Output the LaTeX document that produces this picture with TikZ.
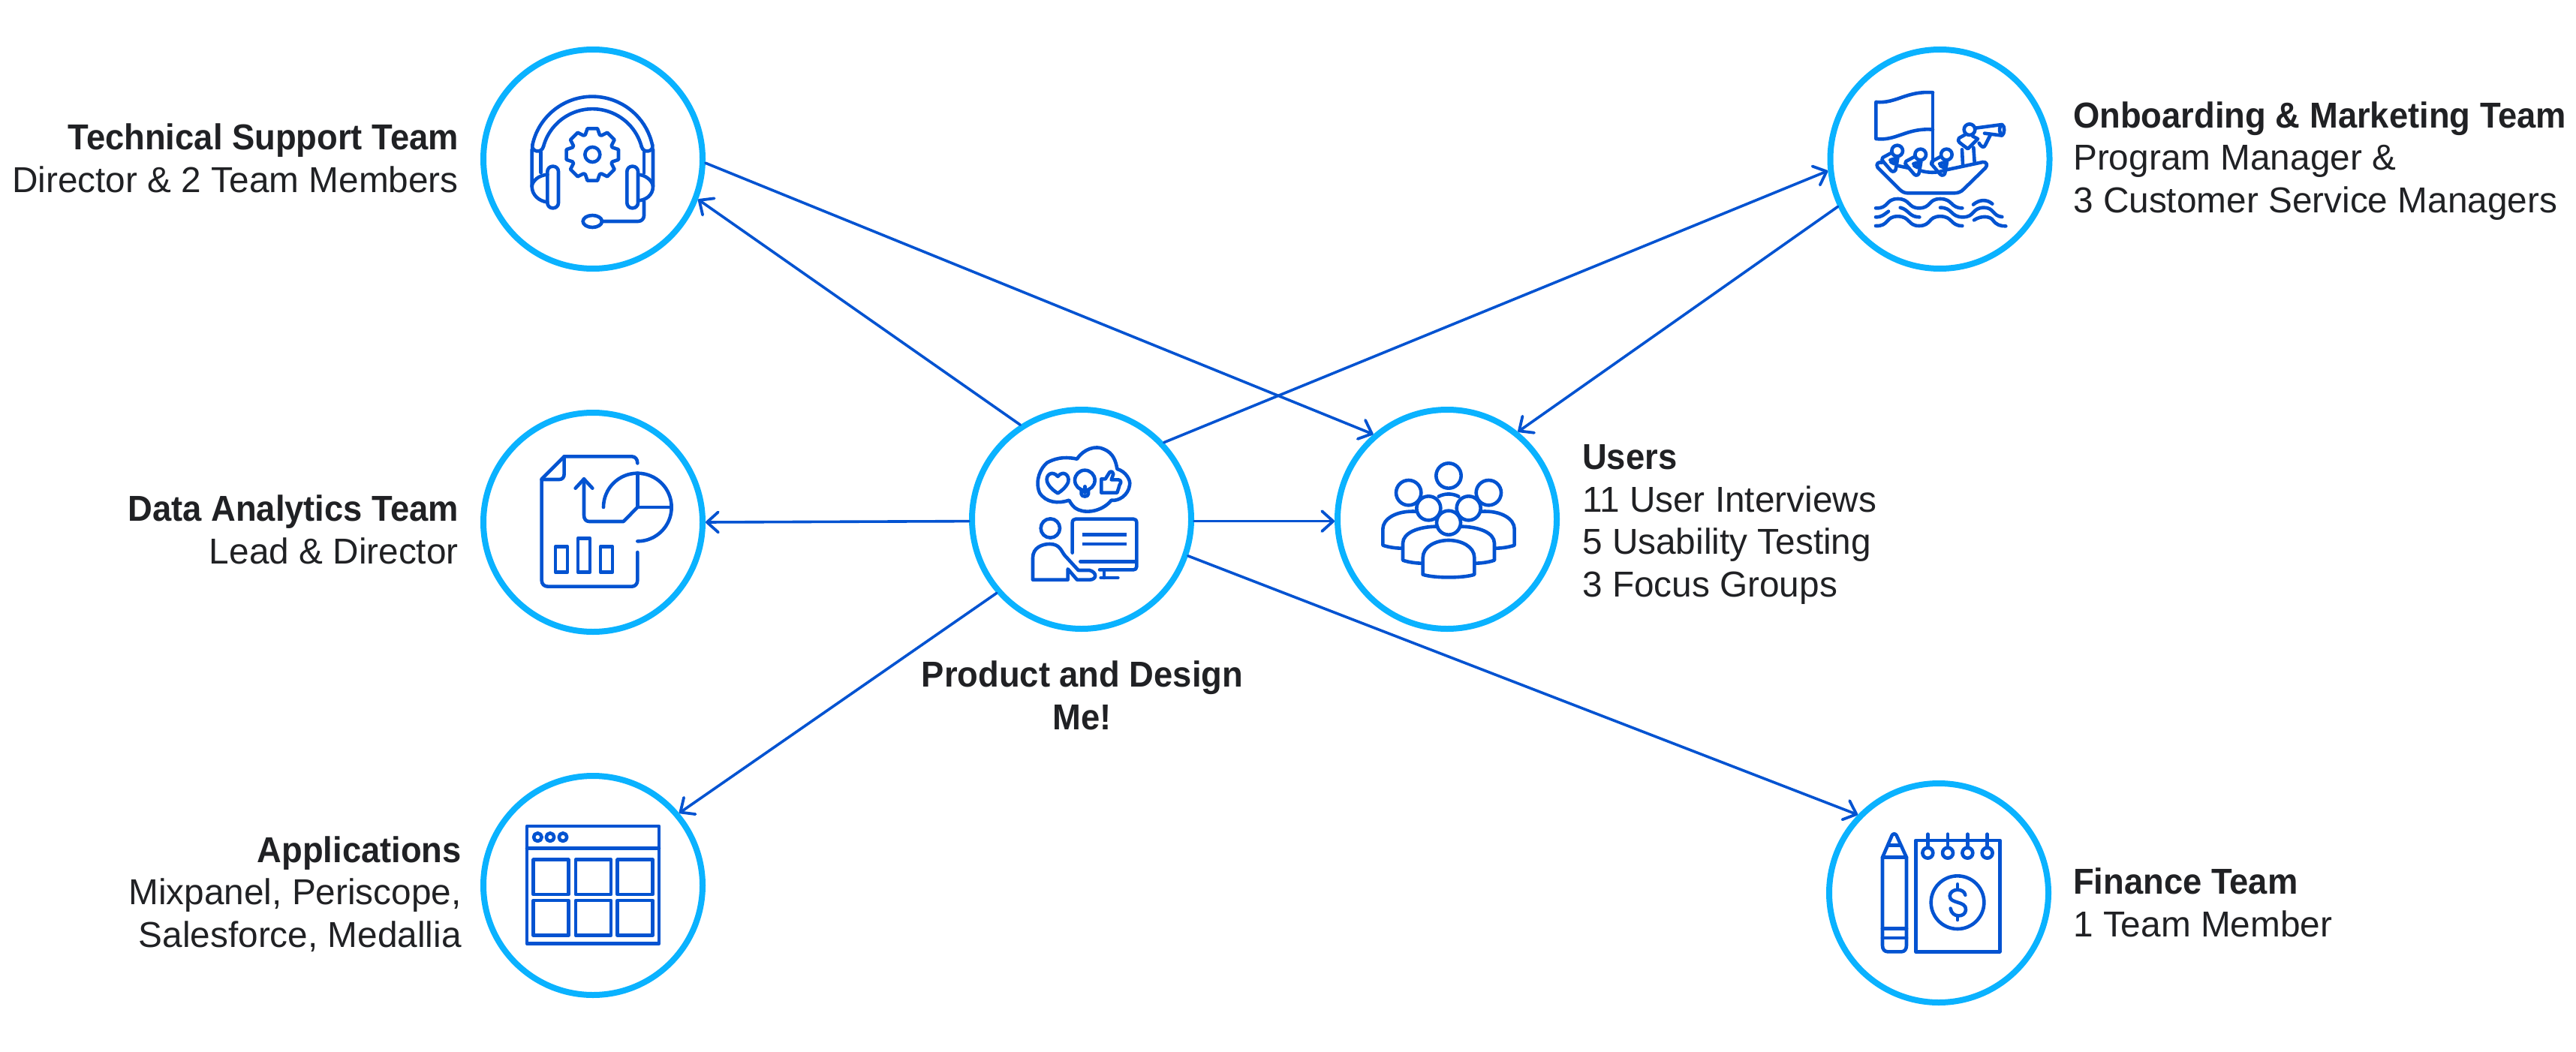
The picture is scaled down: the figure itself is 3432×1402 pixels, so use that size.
\documentclass[tikz,border=0pt]{standalone}
\usepackage{fontspec}
\setmainfont{Liberation Sans}[FakeStretch=0.995,BoldFeatures={FakeStretch=0.945}]
\usetikzlibrary{arrows.meta}
\definecolor{ringc}{HTML}{0AB2FF}
\definecolor{iconc}{HTML}{0353D1}
\definecolor{textc}{HTML}{202124}
\tikzset{
  ring/.style={circle,draw=ringc,line width=8pt,fill=white,minimum size=292pt,inner sep=0pt},
  conn/.style={draw=iconc,line width=3.6pt,line cap=round,-{Straight Barb[length=15pt,width=27pt,line width=3.8pt,round]}},
  icon/.style={draw=iconc,line width=4.6pt,line cap=round,line join=round},
  zoomat/.style 2 args={shift={(#1,#2)},x=0.33333pt,y=-0.33333pt},
  lbl/.style={text=textc,font=\fontsize{48}{56.5}\selectfont,inner sep=0pt},
  lblR/.style={lbl,align=right,anchor=base east},
  lblL/.style={lbl,align=left,anchor=base west},
  lblC/.style={lbl,align=center,anchor=base}
}
\begin{document}
\begin{tikzpicture}[x=1pt,y=-1pt]
\useasboundingbox (0,0) rectangle (3432,1402);
\node[ring] (tech) at (790,212) {};
\node[ring] (onboard) at (2584.5,212) {};
\node[ring] (data) at (790,696) {};
\node[ring] (product) at (1441,692) {};
\node[ring] (users) at (1928,692) {};
\node[ring] (apps) at (790,1180) {};
\node[ring] (finance) at (2583,1190) {};

\draw[conn] (tech.-2.3) -- (users.131.2);
\draw[conn] (product.123.6) -- (tech.-21.6);
\draw[conn] (product.43.9) -- (onboard.186);
\draw[conn] (onboard.205.4) -- (users.51.3);
\draw[conn] (product.181.53) -- (data.0);
\draw[conn] (product.-1.53) -- (users.181.53);
\draw[conn] (product.221.5) -- (apps.40.2);
\draw[conn] (product.-19.4) -- (finance.136.1);

% technical support icon
\begin{scope}[zoomat={620}{0},icon]
\draw (268,580) arc[start angle=192,end angle=348,radius=245];
\draw (312,586) arc[start angle=195,end angle=345,radius=203];
\draw (268,580) .. controls (262,606) and (304,616) .. (312,586);
\draw (704,586) .. controls (712,616) and (754,606) .. (748,580);
\draw (266,598) -- (266,745) .. controls (266,780) and (295,805) .. (328,808);
\draw (302,608) -- (302,690);
\draw (328,698) .. controls (295,700) and (268,722) .. (266,745);
\draw (750,598) -- (750,745) .. controls (750,780) and (722,800) .. (692,802);
\draw (714,608) -- (714,692);
\draw (692,698) .. controls (720,700) and (748,722) .. (750,745);
\draw[rounded corners=7pt] (328,665) rectangle (372,832);
\draw[rounded corners=7pt] (646,665) rectangle (690,832);
\draw (714,805) -- (714,862) .. controls (714,875) and (704,885) .. (690,885) -- (545,885);
\draw (508,885) circle [x radius=38,y radius=24];
\draw (508,618) circle [radius=30];
\begin{scope}[shift={(508,618)}]
\draw (-20:84) \foreach \a in {0,45,...,315} { -- ({\a-20}:84) -- ({\a-11}:106) -- ({\a+11}:106) -- ({\a+20}:84) } -- cycle;
\end{scope}
\end{scope}

% onboarding icon
\begin{scope}[zoomat={2420}{0},icon]
\draw (465,370) .. controls (360,362) and (320,415) .. (238,408) -- (238,555) .. controls (320,565) and (360,510) .. (465,518);
\draw (465,370) -- (465,650);
\draw (322,662) -- (370,672);
\draw (415,682) .. controls (440,690) and (480,694) .. (515,680) -- (665,648) .. controls (682,646) and (685,662) .. (675,672) -- (590,755) .. controls (578,768) and (565,772) .. (550,772) -- (365,772) .. controls (350,772) and (340,765) .. (330,755) -- (245,670) .. controls (235,655) and (250,645) .. (262,650);
\foreach \dx/\dy in {0/0,93/15,197/15} {
\begin{scope}[shift={(\dx,\dy)}]
\draw (323,603) circle [radius=22];
\draw (298,612) -- (265,630) -- (262,640) -- (298,682) .. controls (305,690) and (318,685) .. (318,672) -- (325,632);
\draw (295,640) -- (320,632) -- (312,655) -- (298,648);
\end{scope}}
\draw (612,518) circle [radius=22];
\draw (595,538) -- (570,552) .. controls (565,560) and (566,565) .. (572,570) -- (605,595) -- (645,555) -- (625,545);
\draw (582,598) -- (585,658);
\draw (628,590) -- (632,650);
\draw (650,572) .. controls (660,590) and (670,592) .. (675,580) -- (695,540);
\draw (636,512) -- (742,498) .. controls (755,505) and (752,535) .. (742,542) -- (672,533);
\draw (735,505) .. controls (730,515) and (732,530) .. (738,538);
\draw (237,832) .. controls (290,835) and (275,795) .. (325,795) .. controls (375,795) and (365,832) .. (410,832) .. controls (460,832) and (445,795) .. (495,795) .. controls (545,795) and (535,832) .. (583,832);
\draw (237,903) .. controls (290,906) and (275,865) .. (325,865) .. controls (375,865) and (365,903) .. (410,903) .. controls (460,903) and (445,865) .. (495,865) .. controls (545,865) and (535,903) .. (583,903);
\draw (237,868) .. controls (262,868) and (270,858) .. (288,845);
\draw (335,830) .. controls (370,838) and (370,868) .. (412,868);
\draw (495,830) .. controls (545,830) and (535,868) .. (585,868) .. controls (635,868) and (620,830) .. (670,830) .. controls (710,830) and (705,865) .. (742,867);
\draw (627,818) .. controls (650,798) and (680,795) .. (703,815);
\draw (630,880) .. controls (660,860) and (695,865) .. (705,880) .. controls (720,900) and (735,904) .. (757,904);
\end{scope}

% data analytics icon
\begin{scope}[zoomat={620}{530},icon]
\draw (688,262) .. controls (688,245) and (678,235) .. (665,235) -- (395,235) -- (305,325) -- (305,730) .. controls (305,745) and (315,755) .. (330,755) -- (665,755) .. controls (678,755) and (688,745) .. (688,730) -- (688,618);
\draw (395,235) -- (395,305) .. controls (395,318) and (388,327) .. (375,327) -- (305,327);
\draw (440,362) -- (474,325) -- (508,362);
\draw (474,325) -- (474,470) .. controls (474,485) and (482,495) .. (495,495) -- (632,495) -- (688,438);
\draw (552,438) arc[start angle=180,end angle=450,radius=136];
\draw (688,302) -- (688,438) -- (824,438);
\draw (360,595) rectangle (408,698);
\draw (450,562) rectangle (498,698);
\draw (540,595) rectangle (588,698);
\end{scope}

% product and design icon
\begin{scope}[zoomat={1270}{520},icon]
\draw (495,275) .. controls (520,235) and (570,220) .. (600,235) .. controls (640,250) and (650,285) .. (655,315) .. controls (690,325) and (710,360) .. (705,380) .. controls (700,420) and (660,445) .. (632,440) .. controls (600,480) and (540,495) .. (500,478) .. controls (480,470) and (472,455) .. (463,440) .. controls (420,455) and (370,450) .. (345,410) .. controls (325,360) and (350,310) .. (375,290) .. controls (420,265) and (460,268) .. (495,275) -- cycle;
\draw (418,345) .. controls (395,318) and (368,340) .. (375,365) .. controls (380,385) and (405,405) .. (418,412) .. controls (430,405) and (455,385) .. (460,365) .. controls (465,340) and (440,318) .. (418,345) -- cycle;
\draw (526,360) circle [radius=40];
\draw (512,400) -- (512,415) .. controls (512,428) and (540,428) .. (540,415) -- (540,400);
\draw (526,385) -- (526,410);
\draw (592,355) -- (608,355) -- (625,328) .. controls (632,322) and (640,328) .. (640,335) -- (632,358) -- (660,358) .. controls (672,360) and (672,370) .. (665,378) -- (660,395) -- (655,410) -- (592,410) -- cycle;
\draw (388,552) circle [radius=38];
\draw (318,758) -- (318,670) .. controls (318,630) and (355,615) .. (385,615) .. controls (425,615) and (430,640) .. (445,660) -- (500,720) -- (545,720) .. controls (578,730) and (572,758) .. (545,758) -- (495,758) -- (458,715) -- (458,758) -- cycle;
\draw (476,650) -- (476,530) .. controls (476,520) and (482,515) .. (490,515) -- (720,515) .. controls (728,515) and (733,520) .. (733,530) -- (733,705) .. controls (733,714) and (728,718) .. (720,718) -- (585,718);
\draw (508,685) -- (728,685);
\draw[line cap=butt] (516,577) -- (694,577);
\draw[line cap=butt] (516,615) -- (694,615);
\draw (603,720) -- (603,750);
\draw (590,750) -- (658,750);
\end{scope}

% users icon
\begin{scope}[zoomat={1760}{520},icon]
\draw (510,342) circle [radius=50];
\draw (350,410) circle [radius=50];
\draw (670,410) circle [radius=50];
\draw (430,472) circle [radius=48];
\draw (590,472) circle [radius=48];
\draw (510,530) circle [radius=48];
\draw (470,425) .. controls (495,412) and (525,412) .. (550,425);
\draw (382,485) .. controls (300,480) and (247,515) .. (247,555) -- (247,620) .. controls (270,628) and (300,632) .. (322,632);
\draw (640,485) .. controls (720,480) and (773,515) .. (773,555) -- (773,620) .. controls (750,628) and (720,632) .. (698,632);
\draw (465,545) .. controls (390,545) and (327,570) .. (327,612) -- (327,680) .. controls (350,688) and (380,692) .. (405,692);
\draw (555,545) .. controls (630,545) and (693,570) .. (693,612) -- (693,680) .. controls (670,688) and (640,692) .. (615,692);
\draw (407,737) -- (407,670) .. controls (407,625) and (460,600) .. (510,600) .. controls (560,600) and (613,625) .. (613,670) -- (613,737) .. controls (570,752) and (450,752) .. (407,737);
\end{scope}

% applications icon
\begin{scope}[zoomat={640}{1020},icon]
\draw (186,243) rectangle (714,713);
\draw (186,332) -- (714,332);
\foreach \cx in {229,279,330} \draw (\cx,287) circle [radius=16];
\foreach \xa/\xb in {212/352,381/522,548/689} \foreach \ya/\yb in {377/516,540/680} \draw (\xa,\ya) rectangle (\xb,\yb);
\end{scope}

% finance icon
\begin{scope}[zoomat={2420}{1020},icon]
\draw (264,368) -- (264,720) .. controls (264,735) and (272,745) .. (285,745) -- (340,745) .. controls (352,745) and (360,735) .. (360,720) -- (360,368) -- (320,280) .. controls (316,272) and (306,272) .. (302,280) -- cycle;
\draw (264,368) -- (360,368);
\draw (288,320) -- (336,320);
\draw (264,652) -- (360,652);
\draw (264,690) -- (360,690);
\draw (397,300) rectangle (733,745);
\foreach \cx in {445,525,604,683} {
  \draw (\cx,350) circle [radius=21];
  \draw (\cx,275) -- (\cx,330);
}
\draw (564,548) circle [radius=106];
\draw (595,518) .. controls (590,490) and (535,490) .. (533,522) .. controls (532,555) and (600,540) .. (597,578) .. controls (595,610) and (540,610) .. (536,572);
\draw (564,475) -- (564,492);
\draw (564,602) -- (564,618);
\end{scope}

% labels
\node[lblR] (techlabel) at (611,256) {\textbf{Technical Support Team}\\Director \& 2 Team Members};
\node[lblR] (datalabel) at (611,751) {\textbf{Data Analytics Team}\\Lead \& Director};
\node[lblR] (appslabel) at (615,1262) {\textbf{Applications}\\Mixpanel, Periscope,\\Salesforce, Medallia};
\node[lblL] (onboardlabel) at (2762,283) {\textbf{Onboarding \& Marketing Team}\\Program Manager \&\\3 Customer Service Managers};
\node[lblL] (userslabel) at (2108,795) {\textbf{Users}\\11 User Interviews\\5 Usability Testing\\3 Focus Groups};
\node[lblL] (financelabel) at (2762,1248) {\textbf{Finance Team}\\1 Team Member};
\node[lblC] (productlabel) at (1442,972) {\textbf{Product and Design}\\\textbf{Me!}};
\end{tikzpicture}
\end{document}
